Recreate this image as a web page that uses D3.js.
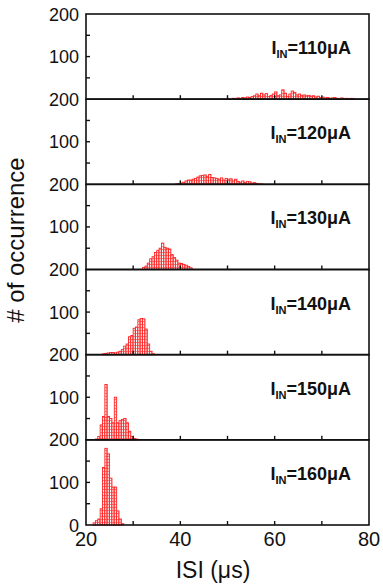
<!DOCTYPE html>
<html>
<head>
<meta charset="UTF-8">
<style>
    body { margin: 0; background: #fff; }
    text { font-family: "Liberation Sans", Arial, sans-serif; fill: #111; }
    .frame { fill: none; stroke: #111; stroke-width: 1.6px; }
    .tick { stroke: #111; stroke-width: 1.4px; }
    .bar { stroke: #f22; stroke-width: 0.9px; fill: url(#hatch); }
</style>
</head>
<body>
<svg id="chart" width="383" height="586"></svg>
<script src="https://d3js.org/d3.v7.min.js"></script>
<script>

    // currents, one panel each (top to bottom)
    var currents = [110, 120, 130, 140, 150, 160];
    var binWidth = 0.5;

    // histogram counts, start of first bin + counts per 0.5 us bin
    var start110 = 50;
    var counts110 = [1, 0, 2, 1, 3, 2, 4, 3, 5, 4, 6, 8, 12, 8, 14, 10, 13, 6, 9, 12,
        17, 8, 10, 22, 14, 6, 12, 19, 16, 10, 12, 9, 10, 8, 9, 7, 8, 5, 7, 4,
        5, 3, 4, 2, 3, 4, 2, 1, 3, 1, 2, 1, 2, 1];
    var start120 = 39;
    var counts120 = [1, 2, 3, 5, 8, 10, 10, 12, 14, 17, 20, 21, 22, 18, 23, 16, 15, 14, 12, 15,
        10, 14, 12, 13, 8, 12, 7, 5, 8, 4, 7, 6, 3, 4, 2, 1, 1];
    var start130 = 32;
    var counts130 = [5, 8, 15, 25, 30, 40, 45, 50, 62, 52, 50, 48, 35, 28, 22, 15, 14, 12, 10, 7, 4];
    var start140 = 23.5;
    var counts140 = [2, 3, 4, 5, 5, 4, 6, 8, 12, 20, 25, 42, 45, 62, 65, 82, 85, 84, 60, 25, 8, 2];
    var start150 = 22;
    var counts150 = [2, 8, 35, 55, 130, 55, 50, 40, 100, 40, 45, 48, 50, 40, 20, 8, 3, 2];
    var start160 = 21.5;
    var counts160 = [5, 10, 14, 38, 135, 180, 167, 110, 89, 89, 33, 14, 3];

    var starts = [start110, start120, start130, start140, start150, start160];
    var counts = [counts110, counts120, counts130, counts140, counts150, counts160];

    var xTicks = [20, 40, 60, 80];
    var xInnerTicks = [30, 40, 50, 60, 70];
    var yTicks = [0, 100, 200];
    var yInnerTicks = [50, 100, 150];

    var plotLeft = 86, plotRight = 369, plotTop = 14, plotBottom = 525;
    var panelH = (plotBottom - plotTop) / currents.length;

    var svg = d3.select("#chart");

    var defs = svg.append("defs");
    var pat = defs.append("pattern")
        .attr("id", "hatch")
        .attr("patternUnits", "userSpaceOnUse")
        .attr("width", 2.36)
        .attr("height", 3);
    pat.append("rect").attr("width", 2.36).attr("height", 3).attr("fill", "#fff");
    pat.append("rect").attr("width", 2.36).attr("height", 0.8).attr("fill", "#f66");
    pat.append("rect").attr("width", 0.6).attr("height", 3).attr("fill", "#f66");

    var x = d3.scaleLinear().domain([20, 80]).range([plotLeft, plotRight]);

    currents.forEach(function (cur, i) {
        var y0 = plotTop + i * panelH;
        var y = d3.scaleLinear().domain([0, 200]).range([y0 + panelH, y0]);
        var last = i === currents.length - 1;

        var bins = counts[i].map(function (c, j) {
            return {x0: starts[i] + j * binWidth, n: c};
        });

        var g = svg.append("g");

        g.selectAll(".bar")
            .data(bins.filter(function (d) { return d.n > 0; }))
            .enter().append("rect")
            .attr("class", "bar")
            .attr("x", function (d) { return x(d.x0); })
            .attr("width", function (d) { return x(d.x0 + binWidth) - x(d.x0); })
            .attr("y", function (d) { return y(d.n); })
            .attr("height", function (d) { return y(0) - y(d.n); });

        // inner ticks
        g.selectAll(".ytick")
            .data(yInnerTicks).enter().append("line")
            .attr("class", "tick")
            .attr("x1", plotLeft).attr("x2", plotLeft + 4)
            .attr("y1", function (d) { return y(d); })
            .attr("y2", function (d) { return y(d); });

        g.selectAll(".xtick")
            .data(xInnerTicks).enter().append("line")
            .attr("class", "tick")
            .attr("x1", function (d) { return x(d); })
            .attr("x2", function (d) { return x(d); })
            .attr("y1", y(0)).attr("y2", y(0) - 4);

        g.append("rect")
            .attr("class", "frame")
            .attr("x", plotLeft).attr("y", y0)
            .attr("width", plotRight - plotLeft).attr("height", panelH);

        // the "0" of upper panels sits under the next panel's "200"
        g.selectAll(".ylab")
            .data(yTicks.filter(function (d) { return d > 0 || last; }))
            .enter().append("text")
            .attr("x", plotLeft - 7)
            .attr("y", function (d) { return y(d) + 6.5; })
            .attr("text-anchor", "end")
            .style("font-size", "18px")
            .text(function (d) { return d; });

        var lab = g.append("text")
            .attr("x", 351)
            .attr("y", y0 + 40)
            .attr("text-anchor", "end")
            .style("font-size", "18px")
            .style("font-weight", "bold");
        lab.append("tspan").text("I");
        lab.append("tspan").attr("dy", 4).style("font-size", "11px").text("IN");
        lab.append("tspan").attr("dy", -4).text("=" + cur + "\u03bcA");
    });

    svg.selectAll(".xlab")
        .data(xTicks).enter().append("text")
        .attr("x", function (d) { return x(d); })
        .attr("y", plotBottom + 21)
        .attr("text-anchor", "middle")
        .style("font-size", "20px")
        .text(function (d) { return d; });

    svg.append("text")
        .attr("x", 213)
        .attr("y", 578)
        .attr("text-anchor", "middle")
        .style("font-size", "23px")
        .text("ISI (\u03bcs)");

    svg.append("text")
        .attr("transform", "translate(24,240) rotate(-90)")
        .attr("text-anchor", "middle")
        .style("font-size", "24px")
        .text("# of occurrence");

</script>
</body>
</html>
